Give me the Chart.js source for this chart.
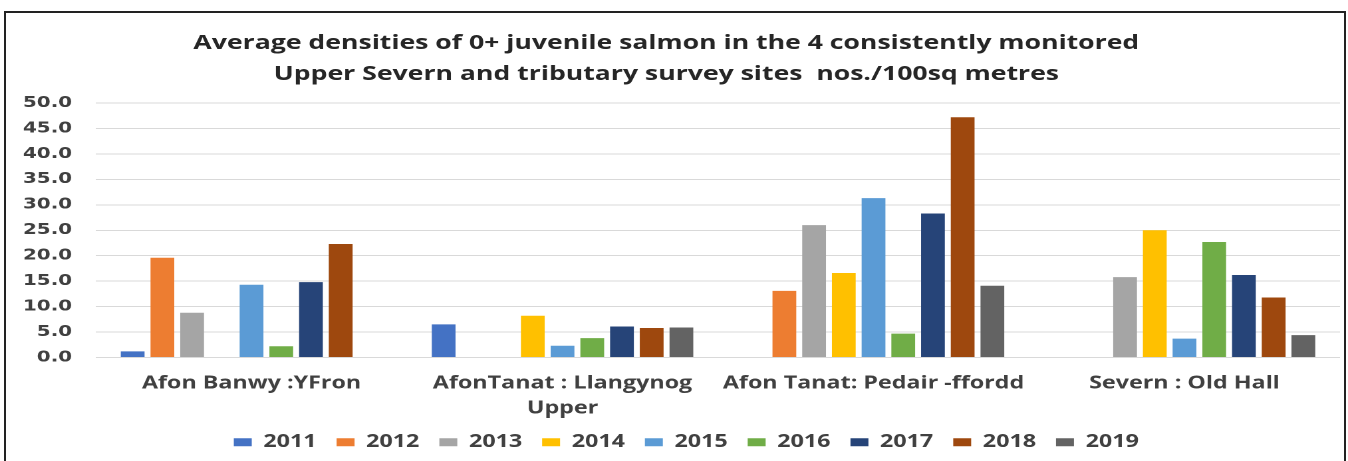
<!DOCTYPE html>
<html>
<head>
<meta charset="utf-8">
<script src="https://cdn.jsdelivr.net/npm/chart.js@4.4.0/dist/chart.umd.min.js"></script>
<style>
  html, body { margin: 0; padding: 0; background: #fff; overflow: hidden; }
  #frame {
    position: absolute; left: 4px; top: 11px; width: 1338px; height: 450px;
    border-top: 2px solid #222; border-left: 2px solid #222; border-right: 2px solid #222;
  }
  /* the source picture is a horizontally stretched export, so draw narrow and stretch */
  #box {
    position: absolute; left: 0; top: 0; width: 1006px; height: 448px;
    transform: scaleX(1.33); transform-origin: 0 0;
  }
</style>
</head>
<body>
<div id="frame"><div id="box"><canvas id="c"></canvas></div></div>
<script>
const sites = ["Afon Banwy :YFron", ["AfonTanat : Llangynog", "Upper"], "Afon Tanat: Pedair -ffordd", "Severn : Old Hall"];
const years = ["2011", "2012", "2013", "2014", "2015", "2016", "2017", "2018", "2019"];
const colors = ["#4472C4", "#ED7D31", "#A5A5A5", "#FFC000", "#5B9BD5", "#70AD47", "#264478", "#9E480E", "#636363"];

// one array per year, in site order
const d2011 = [1.2, 6.5, null, null];
const d2012 = [19.6, null, 13.1, null];
const d2013 = [8.8, null, 26.0, 15.8];
const d2014 = [null, 8.2, 16.6, 25.0];
const d2015 = [14.3, 2.3, 31.3, 3.7];
const d2016 = [2.2, 3.8, 4.7, 22.7];
const d2017 = [14.8, 6.1, 28.3, 16.2];
const d2018 = [22.3, 5.8, 47.2, 11.8];
const d2019 = [null, 5.9, 14.1, 4.4];
const series = [d2011, d2012, d2013, d2014, d2015, d2016, d2017, d2018, d2019];

const yTicks = [0, 5, 10, 15, 20, 25, 30, 35, 40, 45, 50];

const tickFont = { family: "DejaVu Sans", size: 15, weight: "bold" };
const textFont = { family: "Open Sans", size: 17.5, weight: "bold", lineHeight: 1.43 };

// nudge title and legend sideways to sit where the original has them
const nudge = {
  id: "nudge",
  afterLayout(chart) {
    chart.titleBlock.left -= 5; chart.titleBlock.right -= 5;
    chart.legend.left += 10; chart.legend.right += 10;
  }
};

new Chart(document.getElementById("c"), {
  type: "bar",
  data: {
    labels: sites,
    datasets: years.map((y, i) => ({
      label: y,
      data: series[i],
      backgroundColor: colors[i],
      categoryPercentage: 0.86,
      barPercentage: 0.8
    }))
  },
  options: {
    responsive: true,
    maintainAspectRatio: false,
    animation: false,
    devicePixelRatio: 2,
    layout: { padding: { left: 0, right: 3, top: 4, bottom: 0 } },
    plugins: {
      title: {
        display: true,
        text: ["Average densities of 0+ juvenile salmon in the 4 consistently monitored",
               "Upper Severn and tributary survey sites  nos./100sq metres"],
        color: "#262626",
        font: { family: "Open Sans", size: 20, weight: "bold", lineHeight: 1.55 },
        padding: { top: 11, bottom: 13 }
      },
      legend: {
        position: "bottom",
        labels: {
          boxWidth: 13.5, boxHeight: 8, color: "#404040",
          font: { family: "Open Sans", size: 17.5, weight: "bold" }, padding: 15
        }
      },
      tooltip: { enabled: false }
    },
    scales: {
      x: {
        grid: { display: false, drawTicks: false },
        border: { display: false },
        ticks: { color: "#404040", font: textFont, padding: 13.5, maxRotation: 0 },
        afterFit: ax => {
          ax.height = 61;
          // let the wrapped second line run below the axis box
          ax._computeLabelArea = () => null;
        }
      },
      y: {
        min: 0, max: 50,
        afterBuildTicks: ax => { ax.ticks = yTicks.map(v => ({ value: v })); },
        grid: { color: "#d9d9d9", drawTicks: false },
        border: { display: false },
        ticks: { color: "#404040", font: tickFont, padding: 18, callback: v => v.toFixed(1) },
        afterFit: ax => { ax.width = 67.7; }
      }
    }
  },
  plugins: [nudge]
});
</script>
</body>
</html>
